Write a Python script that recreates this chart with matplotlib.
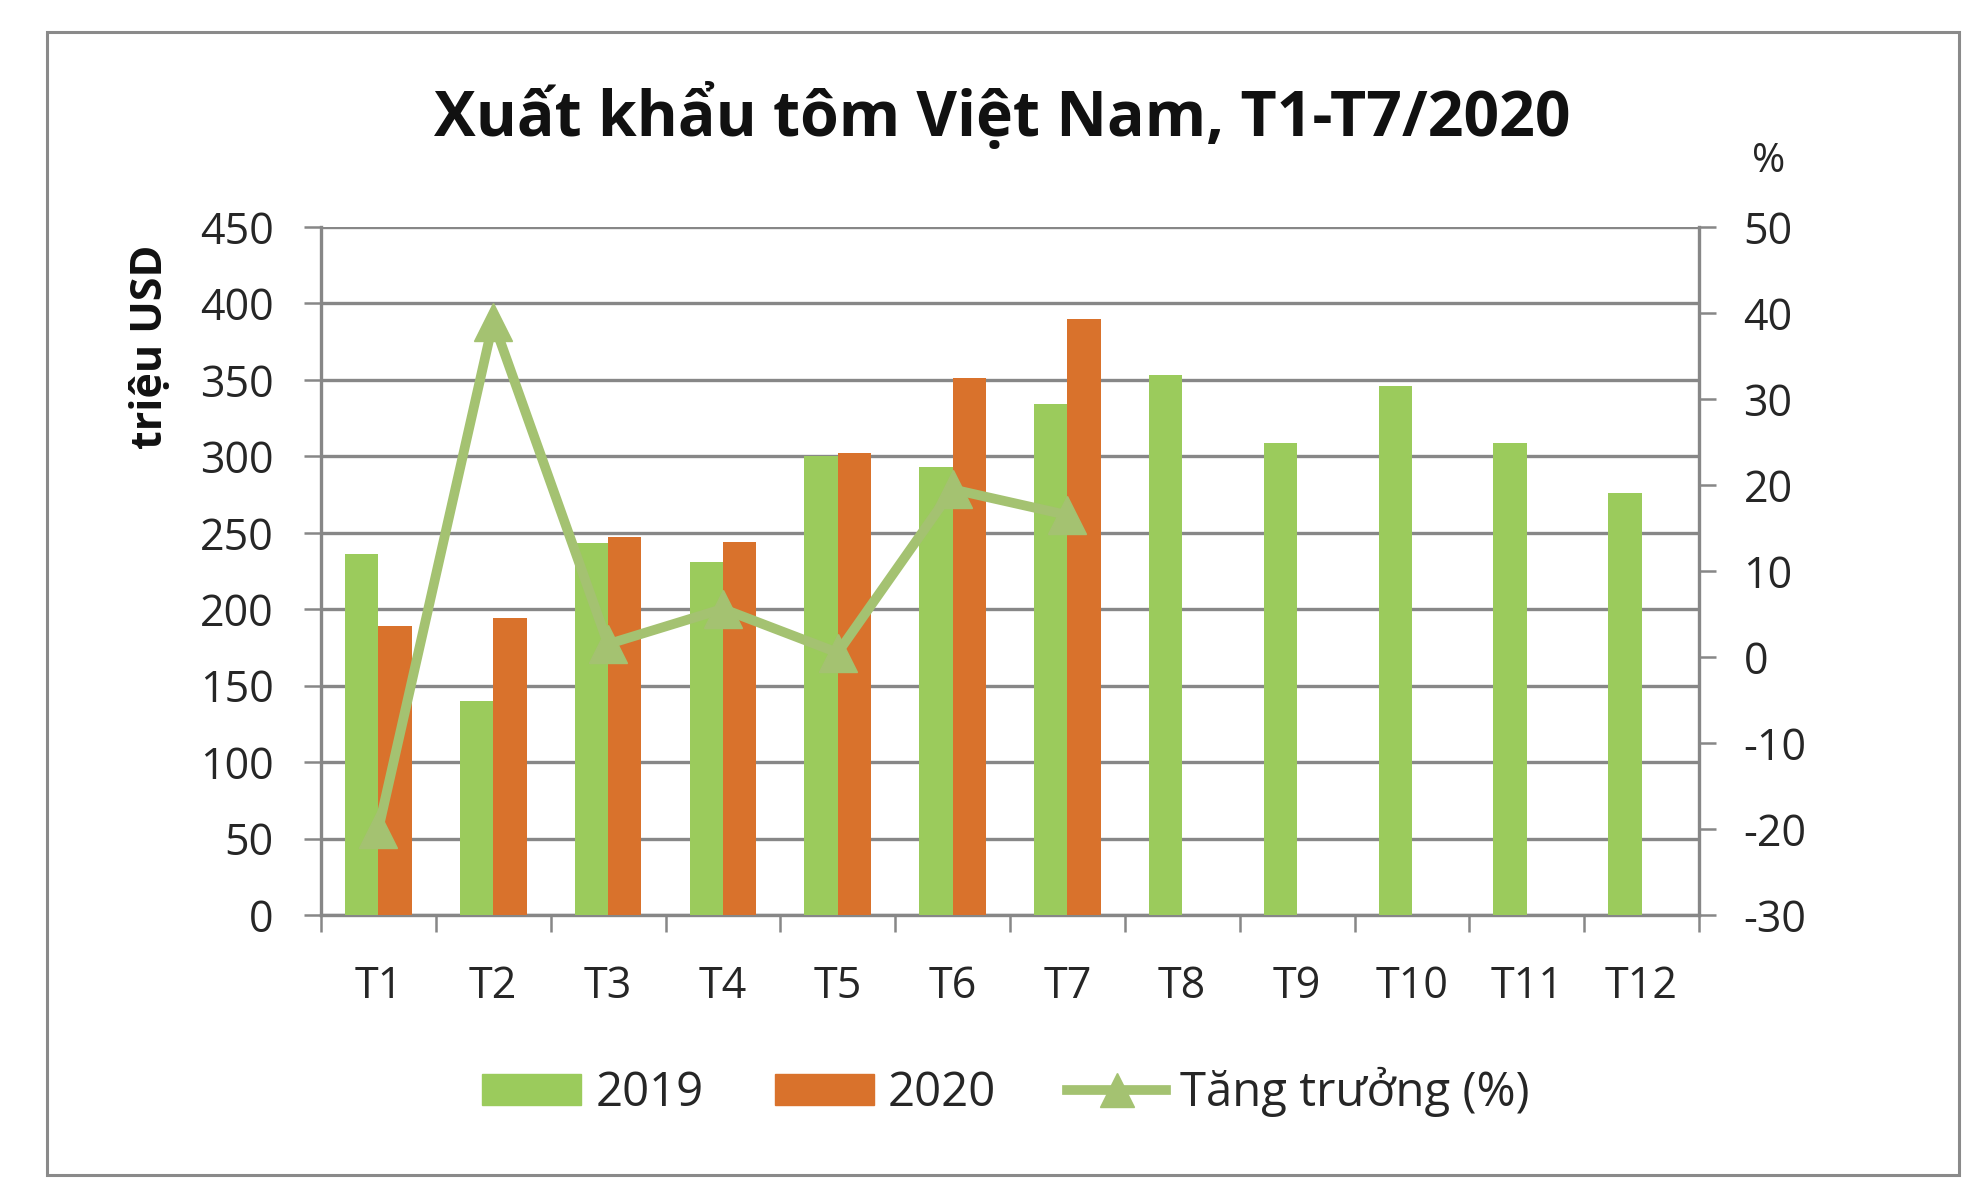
import numpy as np
import matplotlib
matplotlib.use("Agg")
import matplotlib.pyplot as plt
from matplotlib.patches import Rectangle, Patch
from matplotlib.lines import Line2D

plt.rcParams['font.family'] = ['Open Sans', 'DejaVu Sans']
plt.rcParams['axes.unicode_minus'] = False

# data
months = ["T1", "T2", "T3", "T4", "T5", "T6", "T7", "T8", "T9", "T10", "T11", "T12"]
exp_2019 = [236, 140, 243, 231, 300, 293, 334, 353, 309, 346, 309, 276]
exp_2020 = [189, 194, 247, 244, 302, 351, 390]
growth = [-20, 39, 1.5, 5.6, 0.5, 19.5, 16.5]

green = "#9BCB5C"
orange = "#D9722C"
line_green = "#A4C271"
grid_gray = "#878787"
text_col = "#262626"

W, H = 1988, 1188
fig = plt.figure(figsize=(W / 100, H / 100), dpi=100)

# outer chart frame
fig.patches.append(Rectangle((47 / W, 1 - 1175 / H), (1959 - 47) / W, (1175 - 32) / H,
                             transform=fig.transFigure, fill=False,
                             edgecolor="#8A8A8A", linewidth=2.2))

left, right, top, bottom = 321, 1699, 227, 915
ax = fig.add_axes([left / W, 1 - bottom / H, (right - left) / W, (bottom - top) / H])
ax2 = ax.twinx()

x = np.arange(len(months))
bw = 0.29
ax.bar(x - bw / 2, exp_2019, width=bw, color=green, zorder=3)
ax.bar(np.arange(len(exp_2020)) + bw / 2, exp_2020, width=bw, color=orange, zorder=3)

ax.set_ylim(0, 450)
ax.set_yticks(np.arange(0, 451, 50))
ax.set_xlim(-0.5, len(months) - 0.5)
ax.yaxis.grid(True, color=grid_gray, linewidth=2.4, zorder=0)
ax.set_axisbelow(True)

# category boundaries as major ticks, labels on minor ticks
ax.set_xticks(np.arange(-0.5, len(months), 1.0))
ax.set_xticklabels([])
ax.set_xticks(x, minor=True)
ax.set_xticklabels(months, minor=True)
ax.tick_params(axis="x", which="major", length=12, width=1.8, color=grid_gray, direction="out")
ax.tick_params(axis="x", which="minor", length=0, pad=36, labelsize=31, labelcolor=text_col)
ax.tick_params(axis="y", length=12, width=1.8, color=grid_gray, direction="out",
               pad=22, labelsize=31, labelcolor=text_col)

for s in ["top", "right"]:
    ax.spines[s].set_visible(False)
for s in ["left", "bottom"]:
    ax.spines[s].set_color(grid_gray)
    ax.spines[s].set_linewidth(2.4)

ax2.plot(np.arange(len(growth)), growth, color=line_green, linewidth=7,
         marker="^", markersize=28, zorder=5)
ax2.set_ylim(-30, 50)
ax2.set_yticks(np.arange(-30, 51, 10))
ax2.tick_params(axis="y", length=12, width=1.8, color=grid_gray, direction="out",
                pad=20, labelsize=31, labelcolor=text_col)
for s in ["top", "left", "bottom"]:
    ax2.spines[s].set_visible(False)
ax2.spines["right"].set_color(grid_gray)
ax2.spines["right"].set_linewidth(2.4)

fig.text(1002 / W, 1 - 117 / H, "Xuất khẩu tôm Việt Nam, T1-T7/2020",
         ha="center", va="center", fontsize=45, fontweight="bold", color="#111111")
fig.text(150 / W, 1 - 347 / H, "triệu USD", rotation=90, ha="center", va="center",
         fontsize=31, fontweight="bold", color="#111111")
fig.text(1769 / W, 1 - 162 / H, "%", ha="center", va="center", fontsize=29, color=text_col)

handles = [Patch(color=green), Patch(color=orange),
           Line2D([], [], color=line_green, linewidth=7, marker="^", markersize=24)]
fig.legend(handles, ["2019", "2020", "Tăng trưởng (%)"], loc="center",
           bbox_to_anchor=(1006 / W, 1 - 1092 / H), ncol=3, frameon=False,
           fontsize=34, handlelength=2.1, handleheight=0.65, handletextpad=0.3,
           columnspacing=1.5, labelcolor=text_col)

fig.savefig("out.png", dpi=100, facecolor="white")
